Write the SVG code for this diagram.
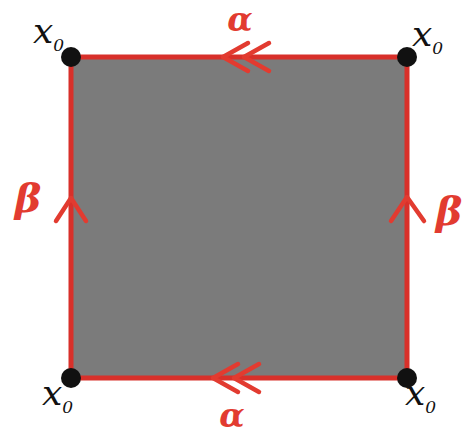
<svg xmlns="http://www.w3.org/2000/svg" width="466" height="436" viewBox="0 0 466 436">
<style>
.edge{stroke:#d8302a;stroke-width:5;fill:none}
.arr{stroke:#e23b30;stroke-width:4.5;fill:none;stroke-linecap:round;stroke-linejoin:round}
.lbl{font-family:"DejaVu Serif","Liberation Serif",serif;font-style:italic;font-weight:bold;fill:#e23b30;font-size:33px;text-anchor:middle}
.b{font-size:40px}
.x{font-family:"DejaVu Serif","Liberation Serif",serif;font-style:italic;fill:#111;font-size:36px}
.s{font-size:17px}
.dot{fill:#111}
</style>
<g id="face">
<rect x="71" y="57" width="336" height="321" fill="#7b7b7b"/>
</g>
<g id="connectors">
<line class="edge" x1="71" y1="57" x2="407" y2="57"/>
<line class="edge" x1="71" y1="378" x2="407" y2="378"/>
<line class="edge" x1="71" y1="57" x2="71" y2="378"/>
<line class="edge" x1="407" y1="57" x2="407" y2="378"/>
<path class="arr" d="M248,43 L223,57 L248,71 M269,43 L244,57 L269,71"/>
<path class="arr" d="M238,364 L213,378 L238,392 M259,364 L234,378 L259,392"/>
<path class="arr" d="M56,221 L71,198 L86,221"/>
<path class="arr" d="M391,221 L407,197 L424,221"/>
</g>
<g id="v1"><circle class="dot" cx="71" cy="57" r="10"/><text class="x" x="33" y="43">x<tspan class="s" dy="8">0</tspan></text></g>
<g id="v2"><circle class="dot" cx="407" cy="57" r="10"/><text class="x" x="412" y="46">x<tspan class="s" dy="8">0</tspan></text></g>
<g id="v3"><circle class="dot" cx="71" cy="378" r="10"/><text class="x" x="42" y="405">x<tspan class="s" dy="8">0</tspan></text></g>
<g id="v4"><circle class="dot" cx="407" cy="378" r="10"/><text class="x" x="405" y="405">x<tspan class="s" dy="8">0</tspan></text></g>
<g id="labels">
<text class="lbl" x="240" y="31">α</text>
<text class="lbl" x="232" y="427">α</text>
<text class="lbl b" x="28" y="212">β</text>
<text class="lbl b" x="449" y="225">β</text>
</g>
</svg>
